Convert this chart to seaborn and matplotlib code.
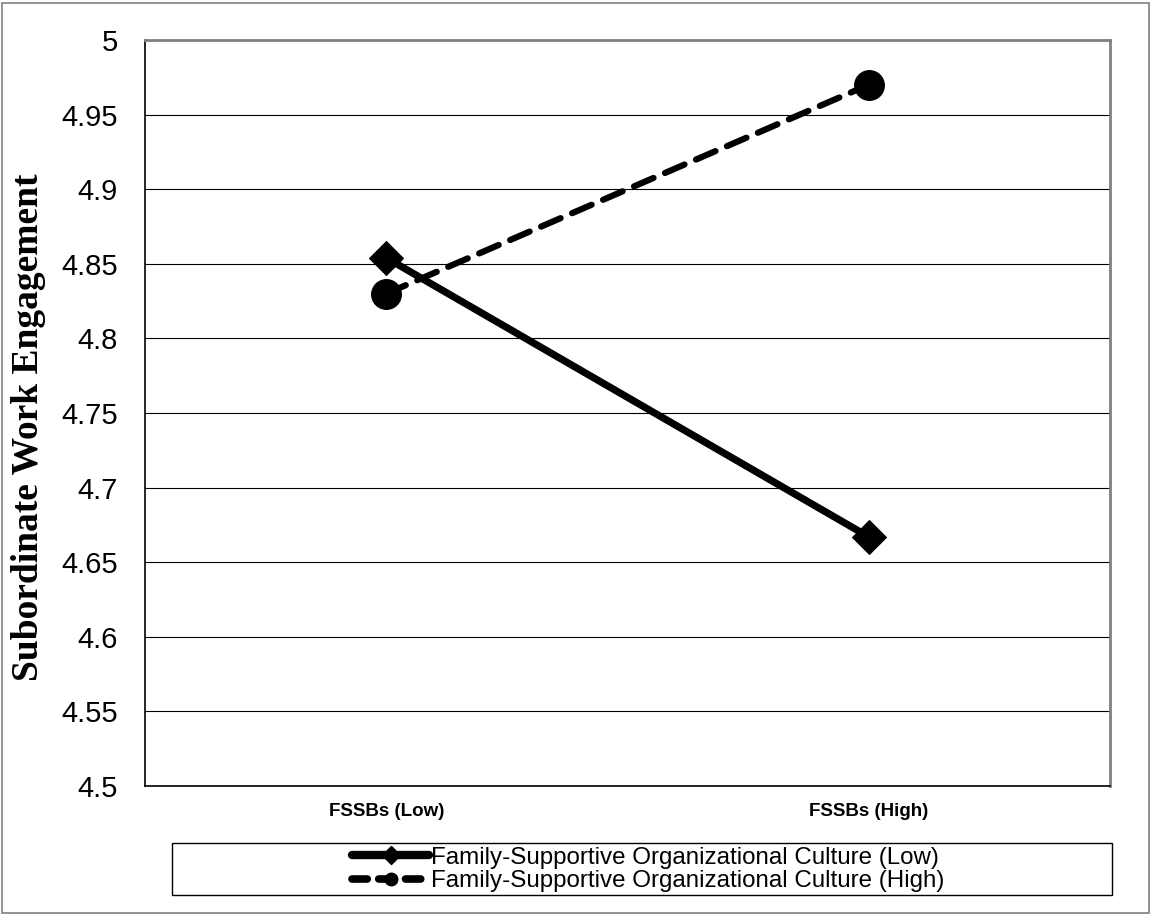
import matplotlib
matplotlib.use("Agg")
import matplotlib.pyplot as plt
import seaborn as sns
import numpy as np
from matplotlib.lines import Line2D
from matplotlib.patches import Rectangle

categories = ["FSSBs (Low)", "FSSBs (High)"]
series_names = ["Family-Supportive Organizational Culture (Low)",
                "Family-Supportive Organizational Culture (High)"]
low_culture = [4.854, 4.667]
high_culture = [4.830, 4.970]
y_ticks = [4.5, 4.55, 4.6, 4.65, 4.7, 4.75, 4.8, 4.85, 4.9, 4.95, 5.0]
y_tick_labels = ["4.5", "4.55", "4.6", "4.65", "4.7", "4.75", "4.8", "4.85", "4.9", "4.95", "5"]

sns.set_style("white")
plt.rcParams['font.family'] = ['Liberation Sans', 'DejaVu Sans']
plt.rcParams['text.color'] = 'black'
plt.rcParams['xtick.color'] = 'black'
plt.rcParams['ytick.color'] = 'black'
plt.rcParams['axes.labelcolor'] = 'black'

fig = plt.figure(figsize=(11.52, 9.16), dpi=100)
ax = fig.add_axes([145/1152, 1-786/916, (1110-145)/1152, (786-40)/916])

ax.set_yticks(y_ticks)
ax.set_yticklabels(y_tick_labels, fontsize=21)
ax.set_ylim(4.5, 5.0)
ax.yaxis.grid(True, color='black', linewidth=0.8)
ax.set_axisbelow(True)

sns.lineplot(x=categories, y=high_culture, ax=ax, color='black', linewidth=4.5,
             marker='o', markersize=21.5, markeredgecolor='black',
             dashes=False, sort=False, zorder=3)
ax.lines[-1].set_dashes((3.4, 2.0))
ax.lines[-1].set_dash_capstyle('round')
sns.lineplot(x=categories, y=low_culture, ax=ax, color='black', linewidth=5.2,
             marker='D', markersize=17, markeredgecolor='black',
             sort=False, zorder=4)

ax.set_xlim(-0.5, 1.5)
ax.set_xticks([0, 1])
ax.set_xticklabels(categories, fontsize=13.5, fontweight='bold')
ax.set_xticks([-0.5, 0.5, 1.5], minor=True)
ax.tick_params(axis='x', which='major', length=0, pad=12)
ax.tick_params(axis='x', which='minor', length=6, width=1, color='black', direction='out')
ax.tick_params(axis='y', length=6.5, width=1, color='black', direction='out', pad=13)

for side in ['left', 'bottom']:
    ax.spines[side].set_color('black')
    ax.spines[side].set_linewidth(1.2)
for side in ['top', 'right']:
    ax.spines[side].set_color('#808080')
    ax.spines[side].set_linewidth(2)

ax.set_ylabel("Subordinate Work Engagement", fontsize=27, fontweight='bold',
              family=['Liberation Serif', 'DejaVu Serif'])
ax.yaxis.set_label_coords(-0.1026, 0.481)
ax.set_xlabel("")

# legend box
fig.patches.append(Rectangle((172/1152, 1-895/916), (1112-172)/1152, (895-843)/916,
                             transform=fig.transFigure, facecolor='white',
                             edgecolor='black', linewidth=1))
handles = [
    Line2D([], [], color='black', linewidth=6, marker='D', markersize=9),
    Line2D([], [], color='black', linewidth=5.5, linestyle=(0, (2.0, 1.5)),
           marker='o', markersize=9, dash_capstyle='round'),
]
leg = fig.legend(handles, series_names, loc='center',
                 bbox_to_anchor=(648/1152, 1-869.5/916), frameon=False,
                 fontsize=17.4, handlelength=3.2, handletextpad=0.05,
                 labelspacing=0.08, borderpad=0)

# figure border
fig.patches.append(Rectangle((2/1152, 3/916), 1147/1152, 910/916,
                             transform=fig.transFigure, facecolor='none',
                             edgecolor='#808080', linewidth=1.2))

fig.savefig("out.png", dpi=100)
